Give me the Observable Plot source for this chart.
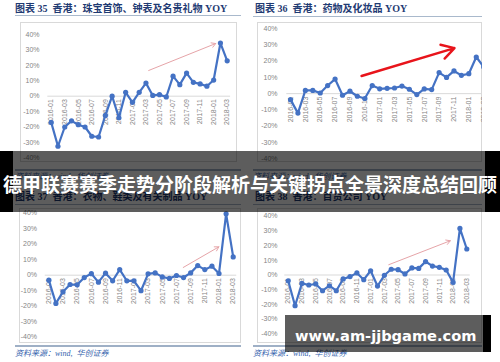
<!DOCTYPE html>
<html><head><meta charset="utf-8">
<script src="https://cdn.jsdelivr.net/npm/d3@7"></script>
<script src="https://cdn.jsdelivr.net/npm/@observablehq/plot@0.6"></script>
<style>
html,body{margin:0;padding:0;background:#fff;}
#root{position:relative;width:500px;height:362px;overflow:hidden;background:#fff;}
.title{position:absolute;font-family:"Liberation Serif","Noto Sans CJK SC",serif;font-weight:bold;font-size:10px;line-height:10px;color:#1f3b73;white-space:pre;}
.uline{position:absolute;height:0;border-top:1.5px solid #a9b9cc;}
.sep{position:absolute;height:0;border-top:2px solid #9fb0c6;}
.src{position:absolute;font-family:"Liberation Serif","Noto Sans CJK SC",serif;font-style:italic;font-size:8px;line-height:8px;color:#3563ad;white-space:pre;}
.frame{position:absolute;overflow:hidden;outline:1px solid #d9d9d9;outline-offset:-1px;background:#fff;}
.frame svg{position:absolute;left:0;top:0;}
.shade{position:absolute;background:rgba(0,0,0,0.635);}
.black{position:absolute;background:#000;}
.banner{position:absolute;left:0;width:500px;text-align:center;font-family:"Noto Sans CJK SC",sans-serif;font-weight:bold;font-size:19px;line-height:19px;color:#fff;white-space:nowrap;}
.wm{position:absolute;font-family:"DejaVu Sans",sans-serif;font-weight:bold;font-size:14.6px;line-height:14.6px;color:#fff;white-space:nowrap;}
</style>
</head><body>
<div id="root"></div>
<script>
// ---------- data ----------
const months = ["2016-01","2016-02","2016-03","2016-04","2016-05","2016-06","2016-07","2016-08","2016-09","2016-10","2016-11","2016-12",
  "2017-01","2017-02","2017-03","2017-04","2017-05","2017-06","2017-07","2017-08","2017-09","2017-10","2017-11","2017-12",
  "2018-01","2018-02","2018-03"];
const tickMonths = ["2016-01","2016-03","2016-05","2016-07","2016-09","2016-11","2017-01","2017-03","2017-05","2017-07","2017-09","2017-11","2018-01","2018-03"];
const yTicks = [-40,-30,-20,-10,0,10,20,30,40];

const jewelleryYoY = [-17,-32.5,-20,-16,-18.5,-20,-26,-26.5,-12.5,0,-14,2.5,-4,2.5,8.5,0.5,1,-0.5,13,7.5,15,9,8,6.5,10.5,34.5,23];
const drugsYoY = [-3.7,-12,2,2,0.4,5,9,-1,1.5,-1.6,-3,5,3,3.3,3.5,4.7,2.7,-0.6,2.9,2.5,13,10,14,11.3,12.3,22.6,16.5];
const clothingYoY = [-3.2,-18.2,-10.7,-6,-6.2,-1.5,1,-4.5,1.3,-3.6,3.6,-3.6,-3.6,-10,0.9,1.5,-1.1,-2.1,-0.2,-1.5,1.5,6.2,3.6,5.8,1.1,39.6,11.8];
const deptStoreYoY = [-3.9,-20.9,-5.7,-6.8,-6.1,-10.7,-7.3,-10.7,-2.7,-1.1,1.4,-3.2,2.9,-7.5,-0.2,3.9,3.6,0.7,4.8,4.5,9.1,6.1,5.2,3.4,-5,31.7,17.7];

// trend arrows: [startMonthIndex, startValue, endMonthIndex, endValue]
const jewelleryArrow = [14.4, 16.7, 24.3, 34.2];
const drugsArrow = [9.56, 10.9, 22.07, 28.1];
const clothingArrow = [18.96, 5, 23.98, 18.3];
const deptStoreArrow = [14.64, 7, 23.6, 23.3];

const titles = ["图表 35  香港：珠宝首饰、钟表及名贵礼物 YOY","图表 36  香港：药物及化妆品 YOY","图表 37  香港：衣物、鞋类及有关制品 YOY","图表 38  香港：百货公司 YOY"];
const sourceNote = "资料来源：wind,  华创证券";
const bannerText = "德甲联赛赛季走势分阶段解析与关键拐点全景深度总结回顾";
const watermarkText = "www.am-jjbgame.com";

// ---------- layout ----------
const root = document.getElementById("root");
function el(cls, css, text){const d=document.createElement("div");d.className=cls;Object.assign(d.style,css);if(text!=null)d.textContent=text;root.appendChild(d);return d;}

const panels = [
  {values: jewelleryYoY, arrow: jewelleryArrow, arrowColor:"#e6a4a8", arrowW:1, head:7,
   tx:15, ty:4, ul:[15,241,15], fx:20, fy:22, fw:217, fh:140, xr:[50.7,226.7], yr:[157.3,34.1], lab:39, sep:169, srcY:173},
  {values: drugsYoY, arrow: drugsArrow, arrowColor:"#e8141b", arrowW:2.4, head:9,
   tx:255, ty:4, ul:[253,482,15.5], fx:257, fy:22, fw:225, fh:140, xr:[290,483.2], yr:[158,28.3], lab:277, sep:169, srcY:173},
  {values: clothingYoY, arrow: clothingArrow, arrowColor:"#e6a4a8", arrowW:1, head:7,
   tx:15, ty:192, ul:[15,241,203.5], fx:19, fy:208, fw:222, fh:135, xr:[48.3,232.7], yr:[336.7,212.7], lab:36.5, sep:345, srcY:349.5},
  {values: deptStoreYoY, arrow: deptStoreArrow, arrowColor:"#e6a4a8", arrowW:1, head:7,
   tx:255, ty:192, ul:[253,482,203.5], fx:257, fy:208, fw:225, fh:135, xr:[287.7,466.3], yr:[333.3,215.7], lab:277, sep:345, srcY:349.5}
];

panels.forEach((p, k) => {
  el("title", {left:p.tx+"px", top:p.ty+"px"}, titles[k]);
  el("uline", {left:p.ul[0]+"px", width:(p.ul[1]-p.ul[0])+"px", top:p.ul[2]+"px"});
  el("sep", {left:p.ul[0]+"px", width:(p.ul[1]-p.ul[0])+"px", top:p.sep+"px"});
  el("src", {left:p.ul[0]+"px", top:p.srcY+"px"}, sourceNote);
  const frame = el("frame", {left:p.fx+"px", top:p.fy+"px", width:p.fw+"px", height:p.fh+"px"});
  const step = (p.xr[1]-p.xr[0])/(months.length-1);
  const mL = p.xr[0]-p.fx-step/2;
  const mR = Math.max(0, p.fx+p.fw-(p.xr[1]+step/2));
  const idx = months.map((m,i)=>i);
  const a = p.arrow;
  const chart = Plot.plot({
    width: p.fw, height: p.fh,
    marginLeft: mL, marginRight: mR, marginTop: 0, marginBottom: 0,
    style: {fontFamily:"Liberation Sans, Arial, sans-serif", fontSize:"7px", color:"#858585", background:"transparent", overflow:"hidden"},
    x: {type:"linear", domain:[0, months.length-1], range:[p.xr[0]-p.fx, p.xr[1]-p.fx], axis:null},
    y: {domain:[-40,40], range:[p.yr[0]-p.fy, p.yr[1]-p.fy], ticks:yTicks, tickSize:0, tickPadding: mL-(p.lab-p.fx), tickFormat:d=>d+"%", label:null},
    marks: [
      Plot.ruleY([0], {stroke:"#d9d9d9", strokeWidth:1}),
      Plot.text(tickMonths, {x:d=>months.indexOf(d), y:()=>0, text:d=>d, rotate:-90, textAnchor:"end", dy:3, fontSize:7, fill:"#858585"}),
      Plot.line(idx, {x:i=>i, y:i=>p.values[i], stroke:"#4472c4", strokeWidth:2.2}),
      Plot.dot(idx, {x:i=>i, y:i=>p.values[i], r:2.6, fill:"#4472c4", stroke:"none"}),
      Plot.arrow([a], {x1:d=>d[0], y1:d=>d[1], x2:d=>d[2], y2:d=>d[3], bend:0, stroke:p.arrowColor, strokeWidth:p.arrowW, headLength:p.head})
    ]
  });
  frame.appendChild(chart);
});

// overlays
el("shade", {left:"0px", top:"151px", width:"500px", height:"61px"});
el("black", {left:"0px", top:"151px", width:"13px", height:"61px"});
el("black", {left:"485px", top:"151px", width:"15px", height:"61px"});
el("banner", {top:"173.5px"}, bannerText);
el("shade", {left:"285px", top:"315px", width:"198px", height:"37px"});
el("black", {left:"483px", top:"315px", width:"8px", height:"37px"});
el("wm", {left:"295px", top:"329.3px"}, watermarkText);
</script>
</body></html>
